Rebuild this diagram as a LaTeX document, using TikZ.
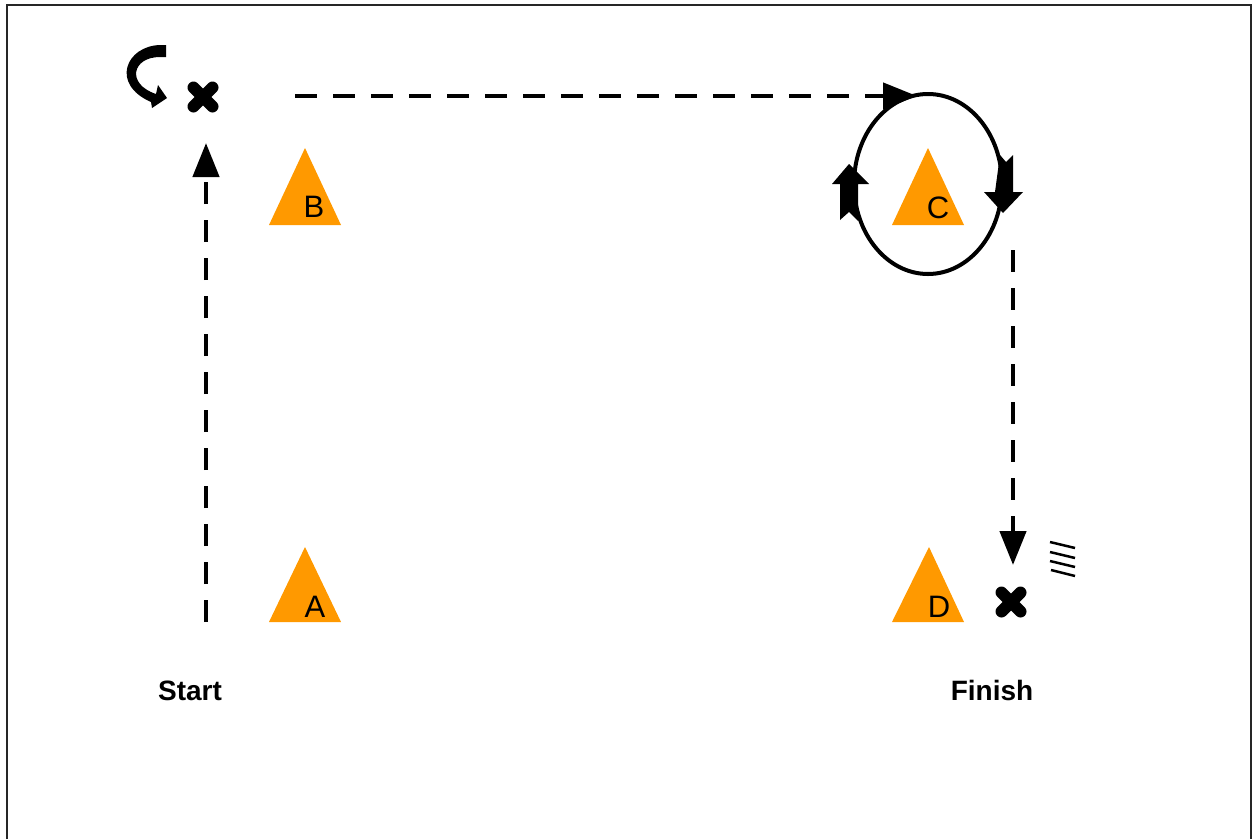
\documentclass[tikz,border=0pt]{standalone}
\usepackage{fontspec}
\setmainfont{Liberation Sans}
\usetikzlibrary{arrows.meta}
\definecolor{cone}{HTML}{FF9900}
\tikzset{
  cone/.style={fill=cone,draw=none},
  conelabel/.style={anchor=base,inner sep=0pt,font=\fontsize{31}{31}\selectfont},
  caption/.style={anchor=base,inner sep=0pt,font=\bfseries\fontsize{28}{28}\selectfont},
  run/.style={line width=4.5pt,dash pattern=on 22pt off 16pt,-{Triangle[length=34pt,width=26pt]}},
  loop/.style={line width=4pt},
  cross/.style={line width=12pt,line cap=round},
  hatch/.style={line width=2.5pt},
}
\begin{document}
\begin{tikzpicture}[x=1pt,y=-1pt]
\useasboundingbox (0,0) rectangle (1253,839);
% frame
\draw[black!85,line width=2pt] (7,839) -- (7,5) -- (1251,5) -- (1251,839);
% cones
\path[cone] (305,148) -- (341,225) -- (269,225) -- cycle;
\path[cone] (305,547) -- (341,622) -- (269,622) -- cycle;
\path[cone] (928,148) -- (964,225) -- (892,225) -- cycle;
\path[cone] (929,547) -- (964,622) -- (892,622) -- cycle;
\node[conelabel] (lb) at (314,217) {B};
\node[conelabel] (la) at (315,617) {A};
\node[conelabel] (lc) at (938,218) {C};
\node[conelabel] (ld) at (939,617) {D};
% captions
\node[caption] (start) at (190,700) {Start};
\node[caption] (finish) at (992,700) {Finish};
% crosses
\coordinate (x1) at (203,97);
\coordinate (x2) at (1011,602);
\foreach \c in {x1,x2}{
  \draw[cross] ([shift={(-9.5,-9.5)}]\c) -- ([shift={(9.5,9.5)}]\c);
  \draw[cross] ([shift={(-9.5,9.5)}]\c) -- ([shift={(9.5,-9.5)}]\c);
}
% run path
\coordinate (p0) at (206,622);
\coordinate (p1) at (206,143);
\coordinate (p2) at (295,96);
\coordinate (p3) at (917,96);
\coordinate (p4) at (1013,250);
\coordinate (p5) at (1013,565);
\draw[run] (p0) -- (p1);
\draw[run] (p2) -- (p3);
\draw[run] (p4) -- (p5);
% loop around C
\coordinate (cc) at (928,184);
\draw[loop] (cc) ellipse [x radius=74, y radius=90];
\fill (1000,155) -- (1006,162) -- (1013,155) -- (1013,192) -- (1023,192) -- (1003,213) -- (984,192) -- (995,192) -- cycle;
\fill (849,164) -- (869,184) -- (858,184) -- (858,221) -- (849,212) -- (840,220) -- (840,184) -- (832,184) -- cycle;
% turn arrow
\fill (166,45) -- (160,45) .. controls (126,46) and (110,84) .. (151,102)
  -- (152,108) -- (167,98) -- (158,85) -- (156,94)
  .. controls (126,84) and (132,57) .. (160,57) -- (166,57) -- cycle;
% hatch
\draw[hatch] (1050,542) -- (1075,548);
\draw[hatch] (1050,552) -- (1075,558);
\draw[hatch] (1050,561) -- (1075,567);
\draw[hatch] (1051,570) -- (1075,576);
\end{tikzpicture}
\end{document}
